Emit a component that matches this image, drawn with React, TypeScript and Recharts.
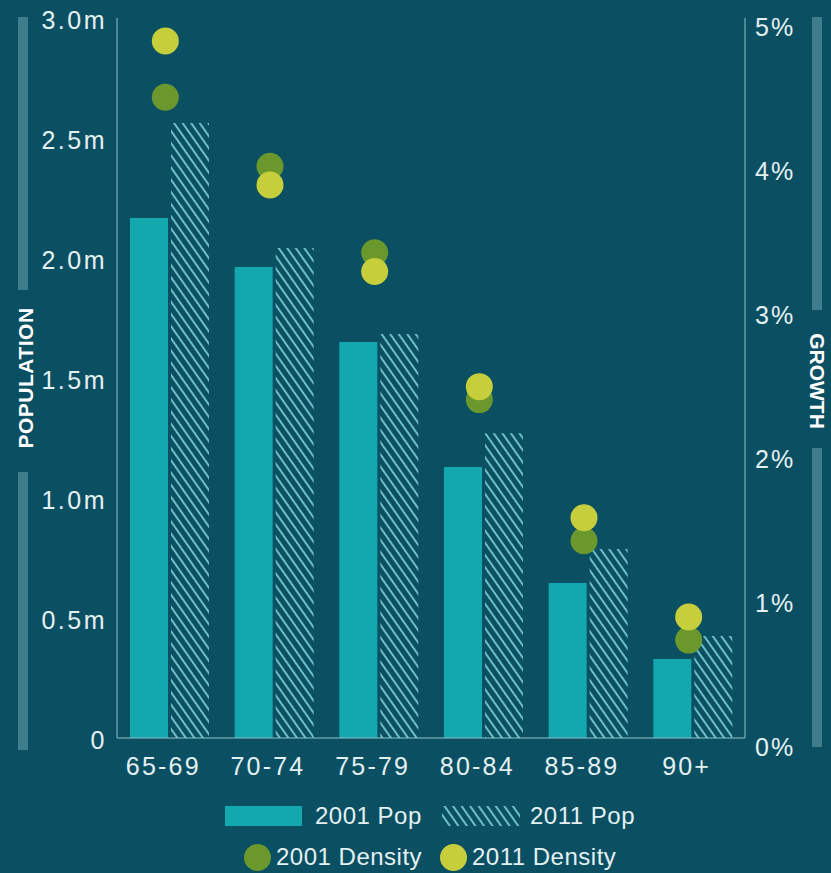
import {
  ComposedChart,
  Bar,
  Scatter,
  XAxis,
  YAxis,
  Label,
} from "recharts";

const ageGroups = ["65-69", "70-74", "75-79", "80-84", "85-89", "90+"];
// population in millions
const pop2001 = [2.167, 1.963, 1.65, 1.129, 0.646, 0.329];
const pop2011 = [2.562, 2.042, 1.683, 1.27, 0.787, 0.425];
// growth / density in %
const density2001 = [4.45, 3.97, 3.37, 2.35, 1.37, 0.68];
const density2011 = [4.84, 3.84, 3.24, 2.44, 1.53, 0.84];

const popTicks = [0, 0.5, 1, 1.5, 2, 2.5, 3];
const growthTicks = [0, 1, 2, 3, 4, 5];

const data = ageGroups.map((age, i) => ({
  age,
  pop2001: pop2001[i],
  pop2011: pop2011[i],
  d2001: density2001[i],
  d2011: density2011[i],
}));

const BG = "#0b4f62";
const TEAL = "#13a8ad";
const HATCH = "#6cbfc6";
const GREEN = "#6b982d";
const YELLOW = "#c6ce3b";
const AXIS = "#8cc3cc";
const TEXT = "#e4f1f3";
const DECO = "#3e7e8c";
const FONT = "'Liberation Sans', Arial, Helvetica, sans-serif";

const popLabel = (v: number) => (v === 0 ? "0" : v.toFixed(1) + "m");

const LeftTick = (props: any) => (
  <text
    x={props.x - 10}
    y={props.y + 11}
    textAnchor="end"
    fill={TEXT}
    fontSize={25}
    letterSpacing={2.5}
    fontFamily={FONT}
  >
    {popLabel(props.payload.value)}
  </text>
);

const RightTick = (props: any) => (
  <text
    x={props.x + 10}
    y={props.y + 18}
    textAnchor="start"
    fill={TEXT}
    fontSize={25}
    letterSpacing={2}
    fontFamily={FONT}
  >
    {props.payload.value + "%"}
  </text>
);

const BottomTick = (props: any) => (
  <text
    x={props.x - 6}
    y={props.y + 37}
    textAnchor="middle"
    fill={TEXT}
    fontSize={25}
    letterSpacing={2.2}
    fontFamily={FONT}
  >
    {props.payload.value}
  </text>
);

const dot = (color: string) => (props: any) => (
  <circle cx={props.cx - 4} cy={props.cy} r={13.5} fill={color} />
);

const LeftTitle = () => (
  <g>
    <rect x={18} y={17} width={10} height={273} fill={DECO} />
    <rect x={18} y={472} width={10} height={278} fill={DECO} />
    <text
      transform="translate(33,378) rotate(-90)"
      textAnchor="middle"
      fill="#ffffff"
      fontWeight="bold"
      fontSize={21}
      letterSpacing={0.5}
      fontFamily={FONT}
    >
      POPULATION
    </text>
  </g>
);

const RightTitle = () => (
  <g>
    <rect x={812} y={17} width={10} height={293} fill={DECO} />
    <rect x={812} y={448} width={10} height={299} fill={DECO} />
    <text
      transform="translate(810,381) rotate(90)"
      textAnchor="middle"
      fill="#ffffff"
      fontWeight="bold"
      fontSize={21}
      fontFamily={FONT}
    >
      GROWTH
    </text>
  </g>
);

const legendText = {
  position: "absolute" as const,
  color: TEXT,
  fontSize: 24,
  letterSpacing: 0.5,
  fontFamily: FONT,
  lineHeight: "24px",
};

export default function App() {
  return (
    <div
      style={{
        position: "absolute",
        left: 0,
        top: 0,
        width: 831,
        height: 873,
        background: BG,
        overflow: "hidden",
      }}
    >
      <ComposedChart
        width={831}
        height={873}
        data={data}
        margin={{ top: 18, right: 0, left: 0, bottom: 95 }}
        barGap={3}
      >
        <defs>
          <pattern
            id="hatch"
            patternUnits="userSpaceOnUse"
            width={7}
            height={7}
            patternTransform="rotate(-35)"
          >
            <line x1={2} y1={0} x2={2} y2={7} stroke={HATCH} strokeWidth={2} />
          </pattern>
        </defs>

        <XAxis
          dataKey="age"
          height={40}
          stroke={AXIS}
          tickLine={false}
          tickSize={0}
          tickMargin={0}
          tick={<BottomTick />}
          interval={0}
        />

        <YAxis
          yAxisId="pop"
          width={117}
          domain={[0, 3]}
          ticks={popTicks}
          stroke={AXIS}
          tickLine={false}
          tickSize={0}
          tickMargin={0}
          tick={<LeftTick />}
        >
          <Label content={<LeftTitle />} />
        </YAxis>

        <YAxis
          yAxisId="growth"
          orientation="right"
          width={86}
          domain={[0, 5]}
          ticks={growthTicks}
          stroke={AXIS}
          tickLine={false}
          tickSize={0}
          tickMargin={0}
          tick={<RightTick />}
        >
          <Label content={<RightTitle />} />
        </YAxis>

        <Bar
          yAxisId="pop"
          dataKey="pop2001"
          fill={TEAL}
          barSize={38}
          isAnimationActive={false}
        />
        <Bar
          yAxisId="pop"
          dataKey="pop2011"
          fill="url(#hatch)"
          barSize={38}
          isAnimationActive={false}
        />

        <Scatter
          yAxisId="growth"
          dataKey="d2001"
          fill={GREEN}
          shape={dot(GREEN)}
          isAnimationActive={false}
        />
        <Scatter
          yAxisId="growth"
          dataKey="d2011"
          fill={YELLOW}
          shape={dot(YELLOW)}
          isAnimationActive={false}
        />
      </ComposedChart>

      {/* legend */}
      <div
        style={{
          position: "absolute",
          left: 225,
          top: 806,
          width: 77,
          height: 20,
          background: TEAL,
        }}
      />
      <div style={{ ...legendText, left: 315, top: 804 }}>2001 Pop</div>
      <svg
        style={{ position: "absolute", left: 442, top: 806 }}
        width={78}
        height={20}
      >
        <defs>
          <pattern
            id="hatchLegend"
            patternUnits="userSpaceOnUse"
            width={7}
            height={7}
            patternTransform="rotate(-35)"
          >
            <line x1={2} y1={0} x2={2} y2={7} stroke={HATCH} strokeWidth={2} />
          </pattern>
        </defs>
        <rect width={78} height={20} fill="url(#hatchLegend)" />
      </svg>
      <div style={{ ...legendText, left: 530, top: 804 }}>2011 Pop</div>

      <div
        style={{
          position: "absolute",
          left: 244,
          top: 844,
          width: 27,
          height: 27,
          borderRadius: "50%",
          background: GREEN,
        }}
      />
      <div style={{ ...legendText, left: 276, top: 845 }}>2001 Density</div>
      <div
        style={{
          position: "absolute",
          left: 440,
          top: 844,
          width: 27,
          height: 27,
          borderRadius: "50%",
          background: YELLOW,
        }}
      />
      <div style={{ ...legendText, left: 472, top: 845 }}>2011 Density</div>
    </div>
  );
}
